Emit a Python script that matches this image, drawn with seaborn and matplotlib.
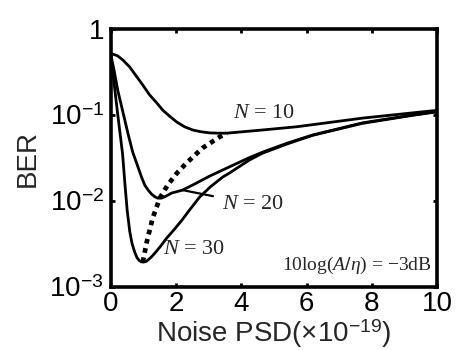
import matplotlib
matplotlib.use("Agg")
import matplotlib.pyplot as plt
import seaborn as sns
import pandas as pd

# values (x = noise PSD in 1e-19, y = BER)
n10_x = [0, 0.2, 0.37, 0.58, 0.80, 0.98, 1.19, 1.41, 1.59, 1.80, 2.02, 2.26, 2.51, 2.75, 3.03, 3.30, 3.55,
         3.94, 4.65, 5.69, 7.71, 9.76, 10]
n10_y = [0.52, 0.49, 0.436, 0.361, 0.277, 0.223, 0.171, 0.138, 0.114, 0.097, 0.083, 0.073, 0.067, 0.064,
         0.062, 0.0615, 0.0615, 0.0634, 0.067, 0.073, 0.092, 0.111, 0.113]

n20_x = [0, 0.1, 0.21, 0.37, 0.52, 0.67, 0.83, 0.94, 1.04, 1.15, 1.25, 1.35, 1.44, 1.55, 1.65, 1.87, 2.20,
         2.6, 3.03, 3.64, 4.25, 4.65, 5.4, 6.18, 7.71, 9.24, 10]
n20_y = [0.5, 0.33, 0.195, 0.108, 0.062, 0.037, 0.025, 0.019, 0.0153, 0.0133, 0.0120, 0.0112, 0.0108,
         0.0108, 0.0112, 0.0124, 0.0134, 0.016, 0.0195, 0.025, 0.032, 0.037, 0.047, 0.0585, 0.081, 0.100, 0.11]

n30_x = [0, 0.05, 0.12, 0.2, 0.28, 0.36, 0.43, 0.5, 0.58, 0.65, 0.73, 0.8, 0.87, 0.94, 1.0, 1.08, 1.15,
         1.25, 1.35, 1.50, 1.71, 1.95, 2.18, 2.45, 2.72, 3.05, 3.43, 3.64, 4.25, 4.65, 5.4, 6.18, 7.71,
         9.24, 10]
n30_y = [0.5, 0.33, 0.2, 0.11, 0.062, 0.035, 0.016, 0.0078, 0.0044, 0.0032, 0.00255, 0.0022, 0.00203,
         0.00196, 0.00195, 0.00198, 0.00208, 0.00225, 0.00248, 0.0029, 0.0037, 0.0047, 0.006, 0.0082,
         0.0111, 0.0146, 0.019, 0.0212, 0.030, 0.036, 0.046, 0.058, 0.080, 0.099, 0.109]

# locus of the minima (dotted)
opt_x = [0.98, 1.10, 1.28, 1.50, 1.74, 2.02, 2.32, 2.81, 3.33, 3.55]
opt_y = [0.00195, 0.00333, 0.0063, 0.0108, 0.0153, 0.021, 0.0277, 0.0413, 0.0555, 0.0615]

ytick_vals = [1e-3, 1e-2, 1e-1, 1]
ytick_labels = ['$10^{-3}$', '$10^{-2}$', '$10^{-1}$', '1']
xtick_vals = [0, 2, 4, 6, 8, 10]

sns.set_style("ticks")
plt.rcParams['font.family'] = ['Liberation Sans', 'DejaVu Sans']
plt.rcParams['mathtext.fontset'] = 'custom'
plt.rcParams['mathtext.rm'] = 'Liberation Sans'
plt.rcParams['mathtext.it'] = 'Liberation Serif:italic'
plt.rcParams['mathtext.bf'] = 'Liberation Sans:bold'

fig, ax = plt.subplots(figsize=(4.6, 3.5), dpi=100)
fig.subplots_adjust(left=0.241, right=0.950, bottom=0.180, top=0.917)

curves = {'10': (n10_x, n10_y), '20': (n20_x, n20_y), '30': (n30_x, n30_y)}
for name, (xs, ys) in curves.items():
    df = pd.DataFrame({'x': xs, 'y': ys})
    sns.lineplot(data=df, x='x', y='y', ax=ax, color='black', lw=2.0, estimator=None, sort=False)

df_opt = pd.DataFrame({'x': opt_x, 'y': opt_y})
sns.lineplot(data=df_opt, x='x', y='y', ax=ax, color='black', lw=3.4, estimator=None, sort=False,
             linestyle=(0, (1, 1)))

ax.set_yscale('log')
ax.set_xlim(0, 10)
ax.set_ylim(1e-3, 1)
ax.set_xticks(xtick_vals)
ax.set_xticklabels([str(v) for v in xtick_vals])
ax.set_yticks(ytick_vals)
ax.set_yticklabels(ytick_labels)
ax.minorticks_off()
ax.tick_params(direction='in', length=3, width=2, labelsize=20, top=True, right=True, colors='black')
ax.tick_params(axis='x', pad=3)
ax.tick_params(axis='y', pad=5)
for sp in ax.spines.values():
    sp.set_linewidth(2.6)
    sp.set_color('black')

ax.set_xlabel('Noise PSD(×10$^{-19}$)', fontsize=20, labelpad=0)
ax.set_ylabel('BER', fontsize=20, labelpad=6)

serif = ['Liberation Serif', 'DejaVu Serif']
ax.text(3.73, 0.105, '$N$ = 10', fontsize=16, family=serif, va='center', ha='left')
ax.text(1.59, 0.0027, '$N$ = 30', fontsize=16, family=serif, va='center', ha='left')
ax.annotate('$N$ = 20', xy=(2.2, 0.0134), xytext=(3.4, 0.0092), fontsize=16, family=serif,
            va='center', ha='left',
            arrowprops=dict(arrowstyle='-', lw=1.6, color='black', shrinkA=4, shrinkB=0))
ax.text(9.85, 0.0018, '10log($A/\\eta$) = −3dB', fontsize=14, family=serif, va='center', ha='right')

fig.savefig('out.png', dpi=100)
